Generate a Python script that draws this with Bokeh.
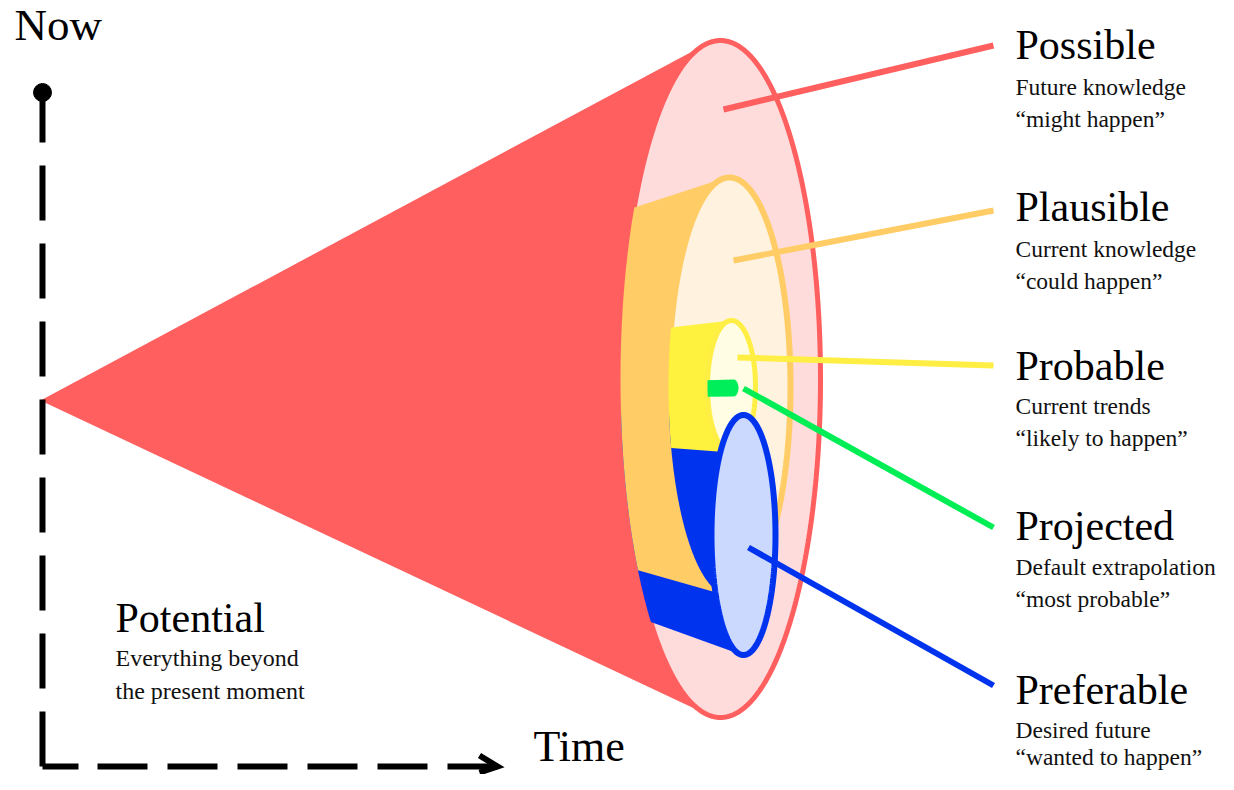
import numpy as np
from bokeh.plotting import figure
from bokeh.models import Range1d
from bokeh.core.properties import value
from bokeh.embed import file_html
from bokeh.resources import INLINE

# ---------------- data ----------------
labels = ["Possible", "Plausible", "Probable", "Projected", "Preferable"]
descriptions = ["Future knowledge", "Current knowledge", "Current trends",
                "Default extrapolation", "Desired future"]
phrases = ["\u201cmight happen\u201d", "\u201ccould happen\u201d", "\u201clikely to happen\u201d",
           "\u201cmost probable\u201d", "\u201cwanted to happen\u201d"]
potential_title = "Potential"
potential_lines = ["Everything beyond", "the present moment"]
axis_titles = ["Now", "Time"]

# ---------------- styles ----------------
side_colors = ["#FF5F5F", "#FFCC66", "#FFF23F", "#00EE5A", "#0033EE"]
face_colors = ["#FFDCDC", "#FFF3DF", "#FFFDE3", "#00EE5A", "#CCD9FF"]
rim_colors = ["#FF5F5F", "#FFCC66", "#FFEE44", "#00EE5A", "#0033EE"]
rim_widths = [5, 6, 5, 0, 6]
leader_colors = ["#FF5F5F", "#FFCC66", "#FFEE44", "#00EE55", "#0033EE"]
SERIF = value("Liberation Serif")
TITLE_PX, SUB_PX, AXIS_PX = 42, 23.5, 45
BASE_SHIFT = 0.38  # rendered baseline sits this many em below the given y

# ---------------- layout (picture pixel coordinates) ----------------
apex = np.array([40.0, 400.0])
face_cx = [720, 729, 731, 733, 743]
face_cy = [378.5, 386, 386, 387.5, 534.5]
face_a = [100, 61, 24, 5, 32]
face_b = [338.5, 209, 66, 8.5, 120]
back_scale = [None, 0.8, 0.85, 0.9, 0.8]
leader_x0 = [723, 733, 737, 743, 748]
leader_y0 = [109, 260, 357, 388, 547]
leader_x1 = [993, 993, 993, 993, 993]
leader_y1 = [45, 210, 365, 527, 685]
label_x = 1015
title_base = [60, 222, 381, 541, 705]
desc_base = [95, 257, 414, 575, 738]
phrase_base = [127, 289, 446, 607, 765]
axis_y = 766


def ty(bases, px):
    return [b - BASE_SHIFT * px for b in bases]


def ellipse_pts(i, n=360):
    t = np.linspace(0, 2 * np.pi, n, endpoint=False)
    return np.column_stack([face_cx[i] + face_a[i] * np.cos(t),
                            face_cy[i] + face_b[i] * np.sin(t)])


def hull(points):
    pts = sorted(set(map(tuple, np.round(points, 4))))
    def cross(o, a, b):
        return (a[0] - o[0]) * (b[1] - o[1]) - (a[1] - o[1]) * (b[0] - o[0])
    lower, upper = [], []
    for p_ in pts:
        while len(lower) >= 2 and cross(lower[-2], lower[-1], p_) <= 0:
            lower.pop()
        lower.append(p_)
    for p_ in reversed(pts):
        while len(upper) >= 2 and cross(upper[-2], upper[-1], p_) <= 0:
            upper.pop()
        upper.append(p_)
    return np.array(lower[:-1] + upper[:-1])


def clip(subject, clipper):
    cx, cy = clipper[:, 0], clipper[:, 1]
    area = np.sum(cx * np.roll(cy, -1) - np.roll(cx, -1) * cy)
    s = 1 if area > 0 else -1
    out = [tuple(p_) for p_ in subject]
    n = len(clipper)
    for i in range(n):
        A = clipper[i]
        B = clipper[(i + 1) % n]
        inp = out
        out = []
        if not inp:
            break
        def inside(P):
            return s * ((B[0] - A[0]) * (P[1] - A[1]) - (B[1] - A[1]) * (P[0] - A[0])) >= 0
        def inter(P, Q):
            d1 = (Q[0] - P[0], Q[1] - P[1])
            d2 = (B[0] - A[0], B[1] - A[1])
            den = d1[0] * d2[1] - d1[1] * d2[0]
            if abs(den) < 1e-12:
                return Q
            t = ((A[0] - P[0]) * d2[1] - (A[1] - P[1]) * d2[0]) / den
            return (P[0] + t * d1[0], P[1] + t * d1[1])
        for j in range(len(inp)):
            P = inp[j - 1]
            Q = inp[j]
            if inside(Q):
                if not inside(P):
                    out.append(inter(P, Q))
                out.append(Q)
            elif inside(P):
                out.append(inter(P, Q))
    return np.array(out)


def frustum(i):
    front = ellipse_pts(i)
    back = apex + back_scale[i] * (front - apex)
    return hull(np.vstack([front, back]))


p = figure(width=1218, height=774, output_backend="svg", toolbar_location=None,
           x_range=Range1d(0, 1218), y_range=Range1d(774, 0), min_border=0)
p.axis.visible = False
p.grid.visible = False
p.outline_line_color = None
p.background_fill_color = "white"
p.border_fill_color = "white"


def fill(poly, color):
    if len(poly) >= 3:
        p.patch(poly[:, 0], poly[:, 1], fill_color=color, line_color=None)


def face(i):
    e = ellipse_pts(i)
    if rim_widths[i] > 0:
        p.patch(e[:, 0], e[:, 1], fill_color=face_colors[i],
                line_color=rim_colors[i], line_width=rim_widths[i])
    else:
        p.patch(e[:, 0], e[:, 1], fill_color=face_colors[i], line_color=None)
    return e


# cone body
outer = ellipse_pts(0)
fill(hull(np.vstack([apex[None, :], outer])), side_colors[0])
# outer face (Possible)
face(0)
# preferable tube side on outer face
fill(clip(frustum(4), outer), side_colors[4])
# plausible tube side
fill(clip(frustum(1), outer), side_colors[1])
plaus = face(1)
# preferable tube side over plausible face
fill(clip(frustum(4), plaus), side_colors[4])
# probable tube side
fill(clip(frustum(2), plaus), side_colors[2])
prob = face(2)
# projected rod
fill(clip(frustum(3), prob), side_colors[3])
# preferable face
face(4)

# leader lines
for k in range(5):
    p.line([leader_x0[k], leader_x1[k]], [leader_y0[k], leader_y1[k]],
           line_color=leader_colors[k], line_width=6)

# labels
p.text(x=[label_x] * 5, y=ty(title_base, TITLE_PX), text=labels, text_font=SERIF,
       text_font_size=value(f"{TITLE_PX}px"), text_color="black", text_baseline="alphabetic")
p.text(x=[label_x] * 5, y=ty(desc_base, SUB_PX), text=descriptions, text_font=SERIF,
       text_font_size=value(f"{SUB_PX}px"), text_color="#111111", text_baseline="alphabetic")
p.text(x=[label_x] * 5, y=ty(phrase_base, SUB_PX), text=phrases, text_font=SERIF,
       text_font_size=value(f"{SUB_PX}px"), text_color="#111111", text_baseline="alphabetic")

p.text(x=[115], y=ty([633], TITLE_PX), text=[potential_title], text_font=SERIF,
       text_font_size=value(f"{TITLE_PX}px"), text_color="black", text_baseline="alphabetic")
p.text(x=[115, 115], y=ty([667, 700], 24), text=potential_lines, text_font=SERIF,
       text_font_size=value("24px"), text_color="#111111", text_baseline="alphabetic")

# axes: Now (vertical) and Time (horizontal)
p.line([42, 42], [axis_y, 92], line_color="black", line_width=6, line_dash="55 23")
p.scatter([42], [92], size=18, color="black")
p.line([42, 78], [axis_y, axis_y], line_color="black", line_width=6)
p.line([97, 497], [axis_y, axis_y], line_color="black", line_width=6, line_dash="50 20")
p.line([479, 497, 479], [axis_y - 11, axis_y, axis_y + 6], line_color="black",
       line_width=6, line_join="miter")

p.text(x=[14], y=ty([42], AXIS_PX), text=[axis_titles[0]], text_font=SERIF,
       text_font_size=value(f"{AXIS_PX}px"), text_color="black", text_baseline="alphabetic")
p.text(x=[533], y=ty([763], 44), text=[axis_titles[1]], text_font=SERIF,
       text_font_size=value("44px"), text_color="black", text_baseline="alphabetic")

open("out.html", "w").write(file_html(p, INLINE))
